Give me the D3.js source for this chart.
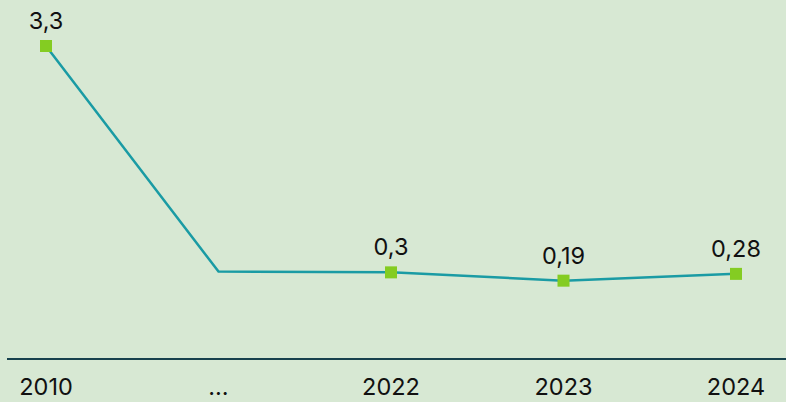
<!DOCTYPE html>
<html>
<head>
<meta charset="utf-8">
<script src="https://cdn.jsdelivr.net/npm/d3@7"></script>
<style>
  html, body { margin: 0; padding: 0; background: #d7e8d3; }
  svg { display: block; }
  text { font-family: Inter, "Open Sans", sans-serif; fill: #111; }
</style>
</head>
<body>
<div id="chart"></div>
<script>
// categories along the bottom ("…" is a gap with no marker)
const categories = ['2010', '…', '2022', '2023', '2024'];
const values = [3.3, 0.31, 0.3, 0.19, 0.28];
const valueLabels = ['3,3', '', '0,3', '0,19', '0,28'];
const showMarker = [true, false, true, true, true];

const width = 786;
const height = 402;

const svg = d3.select('#chart')
	.append('svg')
	.attr('width', width)
	.attr('height', height);

svg.append('rect')
	.attr('width', width)
	.attr('height', height)
	.attr('fill', '#d7e8d3');

const xScale = d3.scalePoint()
	.domain(categories)
	.range([46, 736]);

const yScale = d3.scaleLinear()
	.domain([0, 3.3])
	.range([295, 46]);

const data = categories.map((c, i) => ({ cat: c, value: values[i], label: valueLabels[i], marker: showMarker[i] }));

// baseline
svg.append('line')
	.attr('x1', 7)
	.attr('x2', width)
	.attr('y1', 359)
	.attr('y2', 359)
	.attr('stroke', '#17414d')
	.attr('stroke-width', 2);

// bottom labels
svg.append('g')
	.selectAll('text')
	.data(categories)
	.join('text')
	.attr('x', d => xScale(d))
	.attr('y', 395)
	.attr('text-anchor', 'middle')
	.style('font-size', '23.5px')
	.text(d => d);

const line = d3.line()
	.x(d => xScale(d.cat))
	.y(d => yScale(d.value));

svg.append('path')
	.datum(data)
	.attr('d', line)
	.attr('fill', 'none')
	.attr('stroke', '#1a9ba4')
	.attr('stroke-width', 2.5);

const pts = data.filter(d => d.marker);

svg.append('g')
	.selectAll('rect')
	.data(pts)
	.join('rect')
	.attr('x', d => xScale(d.cat) - 6)
	.attr('y', d => yScale(d.value) - 6)
	.attr('width', 12)
	.attr('height', 12)
	.attr('fill', '#84cc22');

svg.append('g')
	.selectAll('text')
	.data(pts)
	.join('text')
	.attr('x', d => xScale(d.cat))
	.attr('y', d => yScale(d.value) - 17)
	.attr('text-anchor', 'middle')
	.style('font-size', '23.5px')
	.text(d => d.label);
</script>
</body>
</html>
